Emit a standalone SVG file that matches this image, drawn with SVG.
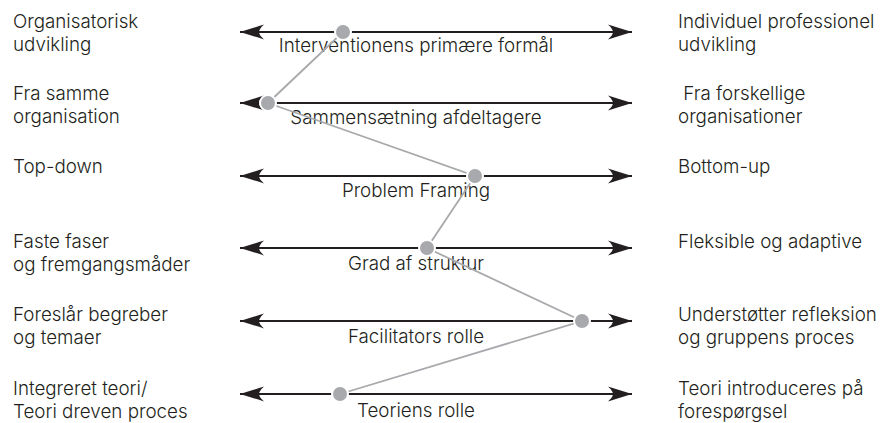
<svg xmlns="http://www.w3.org/2000/svg" width="881" height="423" viewBox="0 0 881 423">
<style>
text{font-family:Inter,"Open Sans","Liberation Sans",sans-serif;font-size:18.8px;font-weight:300;fill:#231f20}
.mid{text-anchor:middle}
.axis{stroke:#231f20;stroke-width:2;fill:none}
.path{stroke:#a7a9ac;stroke-width:1.8;fill:none}
.dot{fill:#a7a9ac;stroke:#fff;stroke-width:2}
</style>
<defs>
<marker id="ah" viewBox="0 0 26 16" refX="25" refY="8" markerWidth="26" markerHeight="16" markerUnits="userSpaceOnUse" orient="auto-start-reverse">
<path d="M25,8 Q12,4 1,0.5 Q6,5 6,8 Q6,11 1,15.5 Q12,12 25,8 Z" fill="#231f20"/>
</marker>
</defs>
<rect width="881" height="423" fill="#fff"/>
<g id="labels-left">
<text x="13" y="28">Organisatorisk</text>
<text x="13" y="51">udvikling</text>
<text x="13" y="100">Fra samme</text>
<text x="13" y="123">organisation</text>
<text x="13" y="173">Top-down</text>
<text x="13" y="248">Faste faser</text>
<text x="13" y="271">og fremgangsmåder</text>
<text x="13" y="321">Foreslår begreber</text>
<text x="13" y="344">og temaer</text>
<text x="13" y="395">Integreret teori/</text>
<text x="13" y="418">Teori dreven proces</text>
</g>
<g id="labels-right">
<text x="678" y="28">Individuel professionel</text>
<text x="678" y="51">udvikling</text>
<text x="678" y="100" xml:space="preserve"> Fra forskellige</text>
<text x="678" y="123">organisationer</text>
<text x="678" y="173">Bottom-up</text>
<text x="678" y="248">Fleksible og adaptive</text>
<text x="678" y="321">Understøtter refleksion</text>
<text x="678" y="344">og gruppens proces</text>
<text x="678" y="395">Teori introduceres på</text>
<text x="678" y="418">forespørgsel</text>
</g>
<g id="connectors">
<line class="axis" x1="240" y1="32" x2="632" y2="32" marker-start="url(#ah)" marker-end="url(#ah)"/>
<line class="axis" x1="240" y1="103" x2="632" y2="103" marker-start="url(#ah)" marker-end="url(#ah)"/>
<line class="axis" x1="240" y1="176" x2="632" y2="176" marker-start="url(#ah)" marker-end="url(#ah)"/>
<line class="axis" x1="240" y1="248" x2="632" y2="248" marker-start="url(#ah)" marker-end="url(#ah)"/>
<line class="axis" x1="240" y1="321" x2="632" y2="321" marker-start="url(#ah)" marker-end="url(#ah)"/>
<line class="axis" x1="240" y1="394" x2="632" y2="394" marker-start="url(#ah)" marker-end="url(#ah)"/>
</g>
<g id="axis-labels">
<text class="mid" x="416" y="52">Interventionens primære formål</text>
<text class="mid" x="416" y="124">Sammensætning afdeltagere</text>
<text class="mid" x="416" y="197">Problem Framing</text>
<text class="mid" x="416" y="270">Grad af struktur</text>
<text class="mid" x="416" y="343">Facilitators rolle</text>
<text class="mid" x="416" y="417">Teoriens rolle</text>
</g>
<g id="profile">
<polyline class="path" points="343,32 268,103 475,176 427,248 582,321 340,394"/>
</g>
<g id="dot1"><circle class="dot" cx="343" cy="32" r="8"/></g>
<g id="dot2"><circle class="dot" cx="268" cy="103" r="8"/></g>
<g id="dot3"><circle class="dot" cx="475" cy="176" r="8"/></g>
<g id="dot4"><circle class="dot" cx="427" cy="248" r="8"/></g>
<g id="dot5"><circle class="dot" cx="582" cy="321" r="8"/></g>
<g id="dot6"><circle class="dot" cx="340" cy="394" r="8"/></g>
</svg>
